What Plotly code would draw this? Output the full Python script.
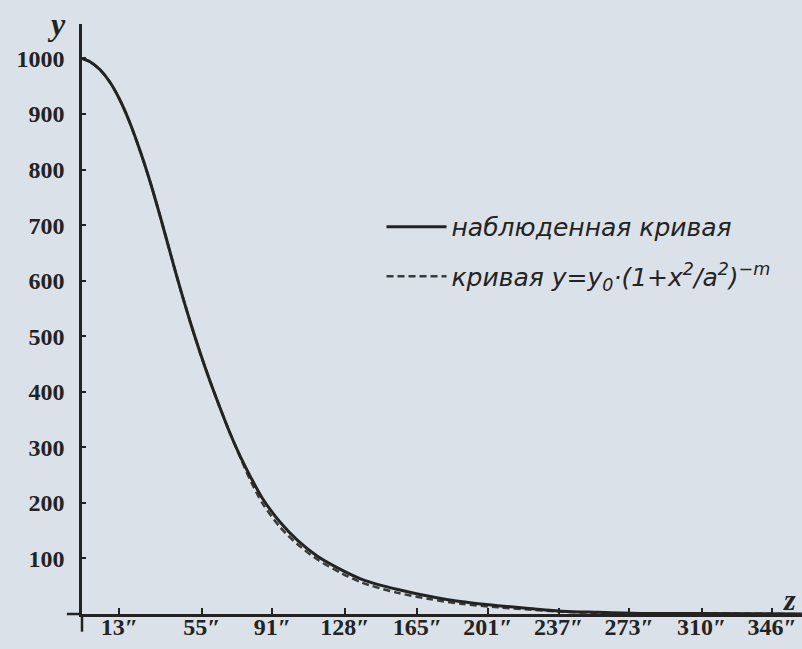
import plotly.graph_objects as go

# distance from centre (arcsec) and intensity
x_obs = [-6, -2, 3, 8, 13, 18, 24, 29, 34, 39, 44, 49, 54, 59, 64, 69, 75, 80,
         86, 95, 104, 114, 126, 137, 155, 171, 188, 206, 222, 239, 257, 279, 309, 361]
y_obs = [1000, 994, 980, 958, 927, 887, 829, 774, 713, 649, 586, 527, 472, 421, 374,
         329, 281, 246, 208, 165, 132, 104, 80, 62, 44, 32, 22, 15, 10, 5, 3, 1, 1, 0]
y_fit = [1000, 994, 980, 958, 927, 887, 829, 774, 713, 649, 586, 527, 472, 421, 374,
         329, 279, 239, 199, 156, 125, 98, 74, 56, 38, 27, 18, 12, 8, 4, 2, 1, 1, 0]

tick_vals = [13, 55, 91, 128, 165, 201, 237, 273, 310, 346]
tick_text = [f"{v}″" for v in tick_vals]
y_ticks = [100, 200, 300, 400, 500, 600, 700, 800, 900, 1000]

name_obs = "наблюденная кривая"
name_fit = "кривая y=y<sub>0</sub>·(1+x<sup>2</sup>/a<sup>2</sup>)<sup>−m</sup>"

ink = "#232323"
bg = "#dae1e8"

fig = go.Figure()
fig.add_trace(go.Scatter(
    x=x_obs, y=y_fit, mode="lines", name=name_fit, legendrank=2, legendgroup="b",
    line=dict(color="#3a3a3a", width=2.5, dash="7px,4px", shape="spline", smoothing=0.8)))
fig.add_trace(go.Scatter(
    x=x_obs, y=y_obs, mode="lines", name=name_obs, legendrank=1, legendgroup="a",
    line=dict(color=ink, width=3, shape="spline", smoothing=0.8)))

tickfont = dict(family="Liberation Serif", size=24, color=ink, weight="bold")

fig.update_layout(
    width=802, height=649,
    margin=dict(l=82, r=0, t=24, b=35),
    paper_bgcolor=bg, plot_bgcolor=bg,
    xaxis=dict(range=[-6.1, 361.2], tickvals=tick_vals, ticktext=tick_text,
               showgrid=False, zeroline=False, showline=True, linecolor=ink, linewidth=2.5,
               ticks="inside", ticklen=6, tickwidth=2, tickcolor=ink, tickfont=tickfont,
               ticklabelstandoff=-11, automargin=False),
    yaxis=dict(range=[0, 1062], tickvals=y_ticks,
               showgrid=False, zeroline=False, showline=True, linecolor=ink, linewidth=2.5,
               ticks="inside", ticklen=4, tickwidth=2, tickcolor=ink, tickfont=tickfont,
               ticklabelstandoff=10, automargin=False),
    legend=dict(x=0.416, y=0.695, xanchor="left", yanchor="top", itemwidth=60,
                bgcolor="rgba(0,0,0,0)", tracegroupgap=14,
                font=dict(family="DejaVu Sans", size=25, color=ink, style="italic")),
    showlegend=True,
)

fig.add_shape(type="line", xref="paper", yref="paper", x0=-0.021, x1=0, y0=0, y1=0,
              line=dict(color=ink, width=2.5))
fig.add_shape(type="line", xref="paper", yref="paper", x0=0, x1=0, y0=0, y1=-0.03,
              line=dict(color=ink, width=2.5))

fig.add_annotation(text="y", xref="paper", yref="paper", x=-0.035, y=1.0,
                   showarrow=False, xanchor="center", yanchor="middle",
                   font=dict(family="Liberation Serif", size=32, color=ink,
                             style="italic", weight="bold"))
fig.add_annotation(text="z", xref="paper", yref="paper", x=0.982, y=0.025,
                   showarrow=False, xanchor="center", yanchor="middle",
                   font=dict(family="Liberation Serif", size=30, color=ink,
                             style="italic", weight="bold"))

fig.write_html("out.html", config={"displayModeBar": False},
               post_script="document.body.style.margin='0px';document.body.style.overflow='hidden';")
